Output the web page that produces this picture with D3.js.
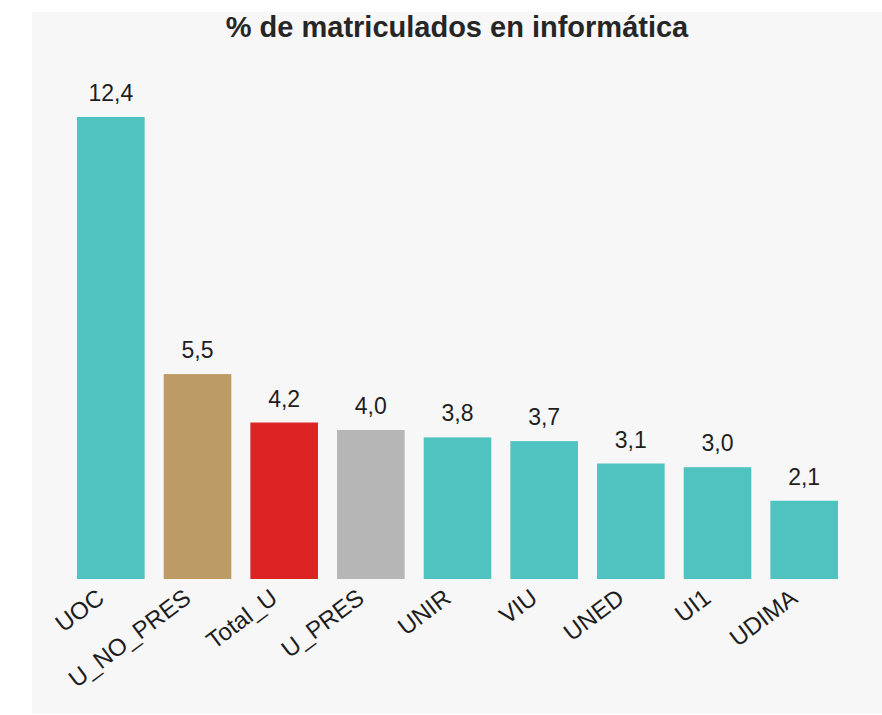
<!DOCTYPE html>
<html>
<head>
<meta charset="utf-8">
<script src="https://cdn.jsdelivr.net/npm/d3@7"></script>
<style>
  body { margin: 0; background: #fff; font-family: Arial, "Liberation Sans", sans-serif; }
</style>
</head>
<body>
<script>
// datos
var universidades = ['UOC', 'U_NO_PRES', 'Total_U', 'U_PRES', 'UNIR', 'VIU', 'UNED', 'UI1', 'UDIMA'];
var porcentajes = [12.4, 5.5, 4.2, 4.0, 3.8, 3.7, 3.1, 3.0, 2.1];
var grupos = ['uni', 'no_pres', 'total', 'pres', 'uni', 'uni', 'uni', 'uni', 'uni'];

var width = 882, height = 715;

var svg = d3.select('body').append('svg')
  .attr('width', width)
  .attr('height', height);

// fondo gris
svg.append('rect')
  .attr('x', 32).attr('y', 12)
  .attr('width', width - 32).attr('height', 702)
  .attr('fill', '#f7f7f7');

svg.append('text')
  .attr('x', 457).attr('y', 37)
  .attr('text-anchor', 'middle')
  .attr('font-size', '29px')
  .attr('font-weight', 'bold')
  .attr('fill', '#262626')
  .text('% de matriculados en informática');

var x = d3.scaleBand()
  .domain(universidades)
  .range([67.5, 847.5])
  .paddingInner(0.22)
  .paddingOuter(0.11);

var y = d3.scaleLinear()
  .domain([0, 12.4])
  .range([579, 117]);

var color = d3.scaleOrdinal()
  .domain(['uni', 'no_pres', 'total', 'pres'])
  .range(['#4ec3bf', '#bd9b65', '#dc2424', '#b6b6b6']);

var datos = universidades.map(function (u, i) {
  return { uni: u, valor: porcentajes[i], grupo: grupos[i] };
});

svg.selectAll('rect.bar')
  .data(datos)
  .enter()
  .append('rect')
  .attr('class', 'bar')
  .attr('x', function (d) { return x(d.uni); })
  .attr('y', function (d) { return y(d.valor); })
  .attr('width', x.bandwidth())
  .attr('height', function (d) { return y(0) - y(d.valor); })
  .attr('fill', function (d) { return color(d.grupo); });

var fmt = function (v) { return v.toFixed(1).replace('.', ','); };

svg.selectAll('text.valor')
  .data(datos)
  .enter()
  .append('text')
  .attr('class', 'valor')
  .attr('x', function (d) { return x(d.uni) + x.bandwidth() / 2; })
  .attr('y', function (d) { return y(d.valor) - 16; })
  .attr('text-anchor', 'middle')
  .attr('font-size', '23px')
  .attr('fill', '#1e1e1e')
  .text(function (d) { return fmt(d.valor); });

// eje x sin linea ni marcas
var ejeX = svg.append('g')
  .attr('transform', 'translate(0,' + y(0) + ')')
  .call(d3.axisBottom(x).tickSize(0).tickPadding(0));

ejeX.select('.domain').remove();

ejeX.selectAll('text')
  .attr('font-size', '24px')
  .attr('font-family', 'Arial, "Liberation Sans", sans-serif')
  .attr('fill', '#1e1e1e')
  .attr('text-anchor', 'end')
  .attr('dy', null)
  .attr('y', 0)
  .attr('transform', 'translate(-5,22) rotate(-37)');
</script>
</body>
</html>
